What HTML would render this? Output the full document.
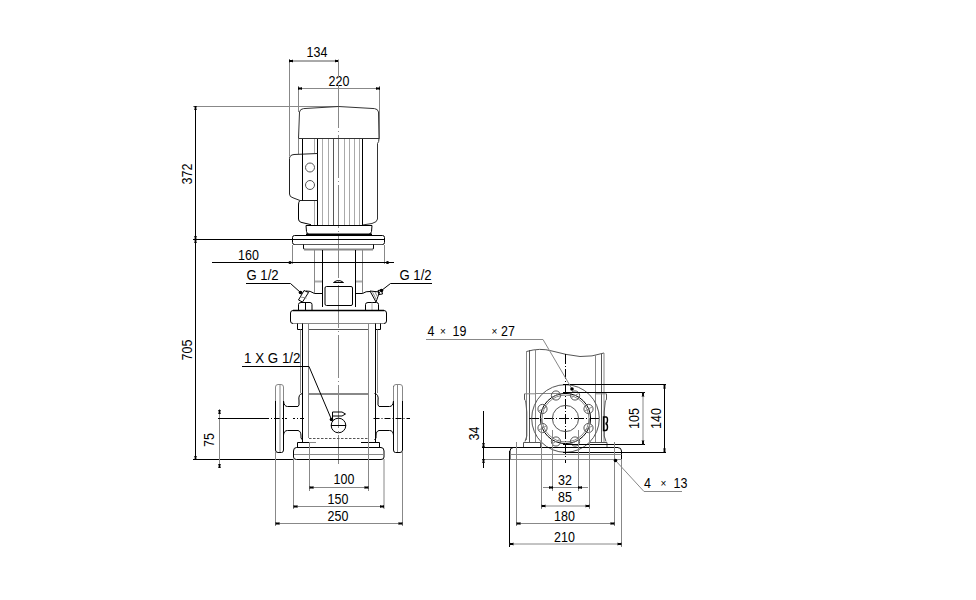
<!DOCTYPE html>
<html><head><meta charset="utf-8"><style>
html,body{margin:0;padding:0;background:#fff;width:976px;height:600px;overflow:hidden}
svg{position:absolute;left:0;top:0}
text{font-family:"Liberation Sans",sans-serif;font-size:13px;fill:#000}
</style></head><body>
<svg width="976" height="600" viewBox="0 0 976 600">
<line x1="289.5" y1="59" x2="289.5" y2="156" stroke="#888"/>
<line x1="289.5" y1="61" x2="338.5" y2="61" stroke="#555"/>
<polygon points="289,59.5 290,60.1 292,60.1 293,59.5 293,62.5 292,61.9 290,61.9 289,62.5" fill="#000"/>
<polygon points="339,59.5 338,60.1 336,60.1 335,59.5 335,62.5 336,61.9 338,61.9 339,62.5" fill="#000"/>
<text transform="translate(317 57) scale(0.96 1.08)" text-anchor="middle">134</text>
<line x1="298.5" y1="86" x2="298.5" y2="112" stroke="#888"/>
<line x1="379.5" y1="86" x2="379.5" y2="139" stroke="#888"/>
<line x1="298.5" y1="88.5" x2="379.5" y2="88.5" stroke="#888"/>
<polygon points="298,87 299,87.6 301,87.6 302,87 302,90 301,89.4 299,89.4 298,90" fill="#000"/>
<polygon points="380,87 379,87.6 377,87.6 376,87 376,90 377,89.4 379,89.4 380,90" fill="#000"/>
<text transform="translate(339 86) scale(0.96 1.08)" text-anchor="middle">220</text>
<line x1="338.5" y1="60" x2="338.5" y2="464" stroke="#888" stroke-dasharray="43,3,1,3" stroke-dashoffset="25"/>
<line x1="193" y1="106.5" x2="338" y2="106.5" stroke="#888"/>
<line x1="195.5" y1="106" x2="195.5" y2="459" stroke="#000"/>
<polygon points="194,106 194.6,107 194.6,109 194,110 197,110 196.4,109 196.4,107 197,106" fill="#000"/>
<polygon points="194,240 194.6,239 194.6,237 194,236 197,236 196.4,237 196.4,239 197,240" fill="#000"/>
<polygon points="194,239 194.6,240 194.6,242 194,243 197,243 196.4,242 196.4,240 197,239" fill="#000"/>
<polygon points="194,460 194.6,459 194.6,457 194,456 197,456 196.4,457 196.4,459 197,460" fill="#000"/>
<line x1="193" y1="239.5" x2="293" y2="239.5" stroke="#000"/>
<text transform="translate(192 174) rotate(-90) scale(0.96 1.08)" text-anchor="middle">372</text>
<text transform="translate(192 350) rotate(-90) scale(0.96 1.08)" text-anchor="middle">705</text>
<line x1="193" y1="459.5" x2="294" y2="459.5" stroke="#000"/>
<line x1="219.5" y1="409" x2="219.5" y2="468" stroke="#888"/>
<polygon points="218,414 218.6,413 218.6,411 218,410 221,410 220.4,411 220.4,413 221,414" fill="#000"/>
<polygon points="218,464 218.6,465 218.6,467 218,468 221,468 220.4,467 220.4,465 221,464" fill="#000"/>
<text transform="translate(214 440) rotate(-90) scale(0.96 1.08)" text-anchor="middle">75</text>
<line x1="218" y1="418.5" x2="267" y2="418.5" stroke="#000"/>
<line x1="267" y1="418.5" x2="304" y2="418.5" stroke="#000" stroke-dasharray="2,2,1,2,6"/>
<path d="M298.5,138.5 L299.5,112 Q300,109 303.5,108.6 L338.5,106.5 L374.5,108.6 Q378,109 378.5,112 L379,138.5 Z" stroke="#333" fill="none"/>
<line x1="322.5" y1="139" x2="322.5" y2="225" stroke="#aaa"/>
<line x1="328.5" y1="139" x2="328.5" y2="225" stroke="#aaa"/>
<line x1="344.5" y1="139" x2="344.5" y2="225" stroke="#aaa"/>
<line x1="349.5" y1="139" x2="349.5" y2="225" stroke="#aaa"/>
<line x1="354.5" y1="139" x2="354.5" y2="225" stroke="#aaa"/>
<line x1="359.5" y1="139" x2="359.5" y2="225" stroke="#aaa"/>
<line x1="333.5" y1="139" x2="333.5" y2="225" stroke="#555"/>
<line x1="317.5" y1="139" x2="317.5" y2="225" stroke="#000"/>
<line x1="362.5" y1="139" x2="362.5" y2="225" stroke="#000"/>
<line x1="314.5" y1="139" x2="314.5" y2="153" stroke="#aaa"/>
<line x1="298.5" y1="139" x2="298.5" y2="154" stroke="#888"/>
<path d="M379,138.5 Q379,142 377.5,143.5 L377.5,219 Q377.5,222 372,223.5 L362.5,225" stroke="#333" fill="none"/>
<path d="M317.5,153.5 L294,154.5 Q289.5,155 289.5,158.5 L289.5,194 Q289.5,197 293,197.8 L300,200.5 L317.5,200.5" stroke="#222" fill="none"/>
<line x1="302.5" y1="139" x2="302.5" y2="200.5" stroke="#000"/>
<circle cx="310" cy="167.5" r="4.5" stroke="#555" fill="none"/>
<circle cx="310" cy="185" r="4.5" stroke="#555" fill="none"/>
<path d="M299.5,201 Q298.5,202 298.5,205 L298.5,219 Q298.5,221.5 301,222.3 L311,224.7" stroke="#000" fill="none"/>
<line x1="314.5" y1="201" x2="314.5" y2="225" stroke="#aaa"/>
<line x1="306" y1="225.5" x2="372" y2="225.5" stroke="#000"/>
<path d="M306,225.5 L306.5,231.5 Q307,234 309,234.5 M368.5,234.5 Q371,234 371.5,231.5 L372,225.5" stroke="#000" fill="none"/>
<line x1="306" y1="234.5" x2="372" y2="234.5" stroke="#000" stroke-width="2"/>
<path d="M294.5,244.5 Q292.5,244.5 292.5,242.5 L292.5,237.5 Q292.5,235.5 294.5,235.5 L382.5,235.5 Q384.5,235.5 384.5,237.5 L384.5,242.5 Q384.5,244.5 382.5,244.5 Z" stroke="#000" fill="none"/>
<line x1="292.5" y1="239.5" x2="384.5" y2="239.5" stroke="#000"/>
<line x1="295" y1="244.5" x2="382" y2="244.5" stroke="#555"/>
<path d="M303.5,244.5 L303.5,248 Q303.5,249.5 305,249.5 L372,249.5 Q373.5,249.5 373.5,248 L373.5,244.5" stroke="#000" fill="none"/>
<line x1="304" y1="249.5" x2="373" y2="249.5" stroke="#888" stroke-width="2"/>
<line x1="314.5" y1="250" x2="314.5" y2="293.5" stroke="#888"/>
<line x1="322.5" y1="250" x2="322.5" y2="307" stroke="#000"/>
<line x1="355.5" y1="250" x2="355.5" y2="307" stroke="#000"/>
<line x1="362.5" y1="250" x2="362.5" y2="293.5" stroke="#888"/>
<line x1="315" y1="281.5" x2="322" y2="281.5" stroke="#aaa" stroke-width="2"/>
<line x1="356" y1="281.5" x2="362" y2="281.5" stroke="#aaa" stroke-width="2"/>
<line x1="314.5" y1="293.5" x2="322.5" y2="293.5" stroke="#000"/>
<line x1="355.5" y1="293.5" x2="362.5" y2="293.5" stroke="#000"/>
<path d="M314.5,293.5 Q310,290.5 306,291" stroke="#000" fill="none"/>
<path d="M362.5,293.5 Q366,291 370,291.5" stroke="#000" fill="none"/>
<path d="M326.5,286.5 L351,286.5 Q352.5,286.5 352.5,288 L352.5,304 Q352.5,305.5 351,305.5 L326.5,305.5 Q325,305.5 325,304 L325,288 Q325,286.5 326.5,286.5 Z" stroke="#000" fill="none"/>
<path d="M333.5,282.5 Q338.5,278.5 343.5,282.5 Z" stroke="#000" fill="none"/>
<line x1="292.5" y1="245" x2="292.5" y2="264" stroke="#888"/>
<line x1="384.5" y1="245" x2="384.5" y2="264" stroke="#888"/>
<line x1="212" y1="262.5" x2="394" y2="262.5" stroke="#000"/>
<circle cx="290" cy="262.5" r="1.6" fill="#000"/>
<circle cx="387.5" cy="262.5" r="1.6" fill="#000"/>
<text transform="translate(248.5 260) scale(0.96 1.08)" text-anchor="middle">160</text>
<text transform="translate(246.5 280) scale(1.01 1.08)">G 1/2</text>
<path d="M246,283.5 L290.5,283.5 L300.5,292.5" stroke="#000" fill="none"/>
<circle cx="300.5" cy="292.5" r="1.8" fill="#000"/>
<path d="M304,290.5 L308.5,292.5 L302.5,302 L298.5,300 Z" stroke="#000" fill="none"/>
<line x1="300.5" y1="297" x2="306.5" y2="298" stroke="#888"/>
<text transform="translate(399.5 280) scale(1.01 1.08)">G 1/2</text>
<path d="M432,283.5 L390.5,283.5 L381.5,290.5" stroke="#000" fill="none"/>
<circle cx="381.5" cy="290.5" r="1.8" fill="#000"/>
<path d="M370,291 L379.5,292 L376,302 Z" stroke="#000" fill="none"/>
<line x1="372.5" y1="292" x2="376.5" y2="300" stroke="#888"/>
<line x1="375" y1="292" x2="377.5" y2="297" stroke="#888"/>
<path d="M378,290.5 L381.5,290 L382.5,294 L379,294.5 Z" stroke="#000" fill="none"/>
<path d="M298.5,310 L298.5,304.5 Q298.5,302.5 301,302.5 L310,302.5 Q312,302.5 312,304.5 L312,310" stroke="#000" fill="none"/>
<line x1="305.5" y1="302.5" x2="305.5" y2="310" stroke="#000"/>
<path d="M365.5,310 L365.5,304.5 Q365.5,302.5 368,302.5 L376.5,302.5 Q378.5,302.5 378.5,304.5 L378.5,310" stroke="#000" fill="none"/>
<line x1="372" y1="302.5" x2="372" y2="310" stroke="#aaa"/>
<path d="M293,310.5 L384,310.5 Q386.5,310.5 386.5,313 L386.5,321 Q386.5,323.5 384,323.5 L293,323.5 Q290.5,323.5 290.5,321 L290.5,313 Q290.5,310.5 293,310.5 Z" stroke="#000" fill="none"/>
<line x1="293" y1="310.5" x2="384" y2="310.5" stroke="#000" stroke-width="1.6"/>
<line x1="293" y1="323.5" x2="384" y2="323.5" stroke="#888"/>
<path d="M297.5,323.5 L297.5,329.5 L302.5,329.5" stroke="#000" fill="none"/>
<path d="M380.5,323.5 L380.5,329.5 L375.5,329.5" stroke="#000" fill="none"/>
<line x1="300.5" y1="329.5" x2="300.5" y2="393" stroke="#888"/>
<line x1="302.5" y1="323.5" x2="302.5" y2="442" stroke="#000"/>
<line x1="377.5" y1="329.5" x2="377.5" y2="393" stroke="#888"/>
<line x1="375.5" y1="323.5" x2="375.5" y2="442" stroke="#000"/>
<line x1="308.5" y1="324" x2="308.5" y2="438" stroke="#888"/>
<line x1="368.5" y1="324" x2="368.5" y2="438" stroke="#888"/>
<line x1="309" y1="329.5" x2="368" y2="329.5" stroke="#555"/>
<line x1="309" y1="394" x2="368" y2="394" stroke="#888" stroke-width="2"/>
<line x1="309" y1="438.5" x2="368" y2="438.5" stroke="#555" stroke-dasharray="2.5,1.5"/>
<circle cx="338.5" cy="425.5" r="7.3" stroke="#000" fill="none"/>
<line x1="331" y1="425.5" x2="346" y2="425.5" stroke="#000"/>
<path d="M332.5,419 L332.5,412 L342,412 L345.5,414 L342,416 L332.5,416" stroke="#000" fill="none"/>
<text transform="translate(244 363) scale(1.03 1.08)">1 X G 1/2</text>
<path d="M242,366.5 L309,366.5 L331.5,419.5" stroke="#000" fill="none"/>
<circle cx="331.5" cy="419.5" r="1.8" fill="#000"/>
<path d="M275.5,401 L275.5,387 Q275.5,384.5 278.0,384.5 L281.0,384.5 Q283.5,384.5 283.5,387 L283.5,401" stroke="#888" fill="none"/>
<line x1="275.5" y1="401" x2="275.5" y2="450" stroke="#000"/>
<line x1="283.5" y1="401" x2="283.5" y2="450" stroke="#000"/>
<path d="M275.5,450 Q275.5,452.5 278.0,452.5 L281.5,452.5 Q283.5,452.5 283.5,450" stroke="#000" fill="none"/>
<line x1="280" y1="385" x2="280" y2="452" stroke="#888"/>
<path d="M283.5,401 Q284.0,406.5 287.5,406.5 L298.0,406.5 Q299.5,406 299.0,401 Q298.0,394 302.5,393.5" stroke="#000" fill="none"/>
<path d="M283.5,435 Q284.0,430.5 287.5,430.5 L298.0,430.5 Q301.0,431 301.0,436 L301.0,438 L302.5,440" stroke="#000" fill="none"/>
<line x1="393.5" y1="386" x2="393.5" y2="401" stroke="#000"/>
<path d="M402.5,401 L402.5,387 Q402.5,384.5 400.0,384.5 L396.0,384.5 Q393.5,384.5 393.5,387 L393.5,401" stroke="#888" fill="none"/>
<line x1="402.5" y1="401" x2="402.5" y2="450" stroke="#000"/>
<line x1="393.5" y1="401" x2="393.5" y2="450" stroke="#000"/>
<path d="M402.5,450 Q402.5,452.5 400.0,452.5 L395.5,452.5 Q393.5,452.5 393.5,450" stroke="#000" fill="none"/>
<line x1="397.5" y1="385" x2="397.5" y2="452" stroke="#888"/>
<path d="M393.5,401 Q393.0,406.5 389.5,406.5 L379.0,406.5 Q377.5,406 378.0,401 Q379.0,394 374.5,393.5" stroke="#000" fill="none"/>
<path d="M393.5,435 Q393.0,430.5 389.5,430.5 L379.0,430.5 Q376.0,431 376.0,436 L376.0,438 L374.5,440" stroke="#000" fill="none"/>
<line x1="373.5" y1="418.5" x2="410" y2="418.5" stroke="#000" stroke-dasharray="6,2,1,2"/>
<path d="M296.5,447.5 L381,447.5 Q384,447.5 384,451 L384,457 Q384,459.5 381,459.5 L296.5,459.5 Q293.5,459.5 293.5,457 L293.5,451 Q293.5,447.5 296.5,447.5 Z" stroke="#000" fill="none"/>
<line x1="294" y1="454.5" x2="383.5" y2="454.5" stroke="#888"/>
<path d="M297.5,447 L297.5,442.5 L309,442.5" stroke="#000" fill="none"/>
<line x1="309" y1="442.5" x2="316" y2="442.5" stroke="#888"/>
<path d="M361,442.5 L379.5,442.5 L379.5,447" stroke="#000" fill="none"/>
<line x1="275.5" y1="452" x2="275.5" y2="526" stroke="#888"/>
<line x1="402.5" y1="452" x2="402.5" y2="526" stroke="#888"/>
<line x1="293.5" y1="459" x2="293.5" y2="509" stroke="#888"/>
<line x1="384" y1="459" x2="384" y2="509" stroke="#888"/>
<line x1="309.5" y1="442" x2="309.5" y2="491" stroke="#888"/>
<line x1="368.5" y1="438" x2="368.5" y2="491" stroke="#888"/>
<line x1="309.5" y1="487.5" x2="368.5" y2="487.5" stroke="#888"/>
<polygon points="309.5,486 310.5,486.6 312.5,486.6 313.5,486 313.5,489 312.5,488.4 310.5,488.4 309.5,489" fill="#000"/>
<polygon points="368.5,486 367.5,486.6 365.5,486.6 364.5,486 364.5,489 365.5,488.4 367.5,488.4 368.5,489" fill="#000"/>
<text transform="translate(344 484) scale(0.96 1.08)" text-anchor="middle">100</text>
<line x1="293.5" y1="506.5" x2="384" y2="506.5" stroke="#888"/>
<polygon points="293.5,505 294.5,505.6 296.5,505.6 297.5,505 297.5,508 296.5,507.4 294.5,507.4 293.5,508" fill="#000"/>
<polygon points="384,505 383,505.6 381,505.6 380,505 380,508 381,507.4 383,507.4 384,508" fill="#000"/>
<text transform="translate(338 504) scale(0.96 1.08)" text-anchor="middle">150</text>
<line x1="275.5" y1="523.5" x2="402.5" y2="523.5" stroke="#888"/>
<polygon points="275.5,522 276.5,522.6 278.5,522.6 279.5,522 279.5,525 278.5,524.4 276.5,524.4 275.5,525" fill="#000"/>
<polygon points="402.5,522 401.5,522.6 399.5,522.6 398.5,522 398.5,525 399.5,524.4 401.5,524.4 402.5,525" fill="#000"/>
<text transform="translate(338 521) scale(0.96 1.08)" text-anchor="middle">250</text>
<path d="M526.5,351.5 Q540,347.5 552,351 Q566,355 580,356.5 Q592,357 604,353" stroke="#555" fill="none"/>
<line x1="526.5" y1="351" x2="526.5" y2="440" stroke="#888"/>
<line x1="529.5" y1="350" x2="529.5" y2="442" stroke="#555"/>
<line x1="535.5" y1="349" x2="535.5" y2="442" stroke="#888"/>
<line x1="595.5" y1="355" x2="595.5" y2="442" stroke="#888"/>
<line x1="601.5" y1="354" x2="601.5" y2="442" stroke="#555"/>
<line x1="604" y1="353" x2="604" y2="442" stroke="#888"/>
<line x1="535.5" y1="393.5" x2="560" y2="393.5" stroke="#888"/>
<path d="M524.5,393.8 L524.5,399 Q524.7,400.5 525.7,401 L526.8,412 L526.8,436 L525,441.5" stroke="#555" fill="none"/>
<path d="M606.5,393.8 L606.5,399 Q606.3,400.5 605.3,401 L604.2,412 L604.2,436 L606,441.5" stroke="#555" fill="none"/>
<line x1="524.5" y1="393.8" x2="535.5" y2="393.8" stroke="#888"/>
<line x1="595.5" y1="393.8" x2="606.5" y2="393.8" stroke="#888"/>
<line x1="565.5" y1="354" x2="565.5" y2="463" stroke="#000" stroke-dasharray="10,2,1,2"/>
<line x1="529" y1="418.5" x2="601" y2="418.5" stroke="#000" stroke-dasharray="10,2,1,2"/>
<circle cx="565.5" cy="418.5" r="33.8" stroke="#555" fill="none"/>
<circle cx="565.5" cy="418.5" r="25.1" stroke="#000" fill="none"/>
<circle cx="565.5" cy="418.5" r="23.4" stroke="#888" fill="none"/>
<circle cx="565.5" cy="418.5" r="13.1" stroke="#555" fill="none"/>
<circle cx="588.5" cy="428.03" r="4.6" stroke="#555" fill="none"/>
<line x1="585" y1="430.03" x2="592" y2="426.03" stroke="#888"/>
<circle cx="575.03" cy="441.5" r="4.6" stroke="#555" fill="none"/>
<line x1="571.53" y1="443.5" x2="578.53" y2="439.5" stroke="#888"/>
<circle cx="555.97" cy="441.5" r="4.6" stroke="#555" fill="none"/>
<line x1="552.47" y1="443.5" x2="559.47" y2="439.5" stroke="#888"/>
<circle cx="542.5" cy="428.03" r="4.6" stroke="#555" fill="none"/>
<line x1="539" y1="430.03" x2="546" y2="426.03" stroke="#888"/>
<circle cx="542.5" cy="408.97" r="4.6" stroke="#555" fill="none"/>
<line x1="539" y1="410.97" x2="546" y2="406.97" stroke="#888"/>
<circle cx="555.97" cy="395.5" r="4.6" stroke="#555" fill="none"/>
<line x1="552.47" y1="397.5" x2="559.47" y2="393.5" stroke="#888"/>
<circle cx="575.03" cy="395.5" r="4.6" stroke="#555" fill="none"/>
<line x1="571.53" y1="397.5" x2="578.53" y2="393.5" stroke="#888"/>
<circle cx="588.5" cy="408.97" r="4.6" stroke="#555" fill="none"/>
<line x1="585" y1="410.97" x2="592" y2="406.97" stroke="#888"/>
<path d="M603.5,417 L606,417 Q607.5,417 607.5,420 Q607.5,423.5 605.5,423.5 Q607.5,424 607.5,427 Q607.5,430.5 605.5,430.5 L603.5,430.5 Z" stroke="#000" fill="none" stroke-width="1.4"/>
<path d="M523.5,447 L523.5,442.5 L540.5,442.5 L540.5,447" stroke="#555" fill="none"/>
<path d="M589.5,447 L589.5,442.5 L607,442.5 L607,447" stroke="#555" fill="none"/>
<line x1="482" y1="447.5" x2="618" y2="447.5" stroke="#000"/>
<path d="M510,459 L510,451 Q510,447.5 513.5,447.5 M617.5,447.5 Q621.5,447.5 621.5,451 L621.5,459" stroke="#000" fill="none"/>
<line x1="510" y1="454.5" x2="621.5" y2="454.5" stroke="#888"/>
<line x1="482" y1="459.5" x2="621.5" y2="459.5" stroke="#888"/>
<line x1="483.5" y1="411" x2="483.5" y2="468" stroke="#000"/>
<polygon points="482,447 482.6,446 482.6,444 482,443 485,443 484.4,444 484.4,446 485,447" fill="#000"/>
<polygon points="482,459 482.6,460 482.6,462 482,463 485,463 484.4,462 484.4,460 485,459" fill="#000"/>
<text transform="translate(479 433.5) rotate(-90) scale(0.96 1.08)" text-anchor="middle">34</text>
<line x1="563" y1="392.5" x2="645" y2="392.5" stroke="#000"/>
<line x1="563" y1="444.5" x2="645" y2="444.5" stroke="#000"/>
<line x1="563" y1="384.5" x2="666" y2="384.5" stroke="#000"/>
<line x1="563" y1="452.5" x2="666" y2="452.5" stroke="#000"/>
<line x1="643" y1="392.5" x2="643" y2="444.5" stroke="#888"/>
<polygon points="641.5,392.5 642.1,393.5 642.1,395.5 641.5,396.5 644.5,396.5 643.9,395.5 643.9,393.5 644.5,392.5" fill="#000"/>
<polygon points="641.5,444.5 642.1,443.5 642.1,441.5 641.5,440.5 644.5,440.5 643.9,441.5 643.9,443.5 644.5,444.5" fill="#000"/>
<line x1="664.5" y1="384.5" x2="664.5" y2="452.5" stroke="#000"/>
<polygon points="663,384.5 663.6,385.5 663.6,387.5 663,388.5 666,388.5 665.4,387.5 665.4,385.5 666,384.5" fill="#000"/>
<polygon points="663,452.5 663.6,451.5 663.6,449.5 663,448.5 666,448.5 665.4,449.5 665.4,451.5 666,452.5" fill="#000"/>
<text transform="translate(639 418.5) rotate(-90) scale(0.96 1.08)" text-anchor="middle">105</text>
<text transform="translate(660.5 418.5) rotate(-90) scale(0.96 1.08)" text-anchor="middle">140</text>
<line x1="509.5" y1="451" x2="509.5" y2="547" stroke="#000"/>
<line x1="621.5" y1="459" x2="621.5" y2="547" stroke="#888"/>
<line x1="516.5" y1="442" x2="516.5" y2="526" stroke="#888"/>
<line x1="614.5" y1="442" x2="614.5" y2="526" stroke="#888"/>
<line x1="541.5" y1="418" x2="541.5" y2="509" stroke="#888"/>
<line x1="589.5" y1="418" x2="589.5" y2="509" stroke="#888"/>
<line x1="552.5" y1="430" x2="552.5" y2="491" stroke="#888"/>
<line x1="578.5" y1="430" x2="578.5" y2="491" stroke="#888"/>
<line x1="543" y1="487.5" x2="588" y2="487.5" stroke="#888"/>
<polygon points="553,486 552,486.6 550,486.6 549,486 549,489 550,488.4 552,488.4 553,489" fill="#000"/>
<polygon points="578,486 579,486.6 581,486.6 582,486 582,489 581,488.4 579,488.4 578,489" fill="#000"/>
<text transform="translate(565 485) scale(0.96 1.08)" text-anchor="middle">32</text>
<line x1="541.5" y1="506" x2="589.5" y2="506" stroke="#888"/>
<polygon points="541.5,504.5 542.5,505.1 544.5,505.1 545.5,504.5 545.5,507.5 544.5,506.9 542.5,506.9 541.5,507.5" fill="#000"/>
<polygon points="589.5,504.5 588.5,505.1 586.5,505.1 585.5,504.5 585.5,507.5 586.5,506.9 588.5,506.9 589.5,507.5" fill="#000"/>
<text transform="translate(565 502) scale(0.96 1.08)" text-anchor="middle">85</text>
<line x1="516.5" y1="523.5" x2="614.5" y2="523.5" stroke="#888"/>
<polygon points="516.5,522 517.5,522.6 519.5,522.6 520.5,522 520.5,525 519.5,524.4 517.5,524.4 516.5,525" fill="#000"/>
<polygon points="614.5,522 613.5,522.6 611.5,522.6 610.5,522 610.5,525 611.5,524.4 613.5,524.4 614.5,525" fill="#000"/>
<text transform="translate(564.5 521) scale(0.96 1.08)" text-anchor="middle">180</text>
<line x1="509.5" y1="544" x2="621.5" y2="544" stroke="#888"/>
<polygon points="509.5,542.5 510.5,543.1 512.5,543.1 513.5,542.5 513.5,545.5 512.5,544.9 510.5,544.9 509.5,545.5" fill="#000"/>
<polygon points="621.5,542.5 620.5,543.1 618.5,543.1 617.5,542.5 617.5,545.5 618.5,544.9 620.5,544.9 621.5,545.5" fill="#000"/>
<text transform="translate(564.5 542) scale(0.96 1.08)" text-anchor="middle">210</text>
<path d="M615.5,460.5 L644,491.5 L682,491.5" stroke="#888" fill="none"/>
<circle cx="615.5" cy="460.5" r="1.8" fill="#000"/>
<text transform="translate(644 488) scale(0.96 1.08)">4</text>
<text transform="translate(660.5 486.5) scale(0.96 1.08)" style="font-size:10.5px">×</text>
<text transform="translate(673.5 488) scale(0.96 1.08)">13</text>
<path d="M426,339.5 L543,339.5 L572,389" stroke="#888" fill="none"/>
<circle cx="572" cy="389" r="1.8" fill="#000"/>
<text transform="translate(427.5 336) scale(0.96 1.08)">4</text>
<text transform="translate(440 334.5) scale(0.96 1.08)" style="font-size:10.5px">×</text>
<text transform="translate(452.5 336) scale(0.96 1.08)">19</text>
<text transform="translate(491.5 334.5) scale(0.96 1.08)" style="font-size:10.5px">×</text>
<text transform="translate(501 336) scale(0.96 1.08)">27</text>
</svg>
</body></html>
